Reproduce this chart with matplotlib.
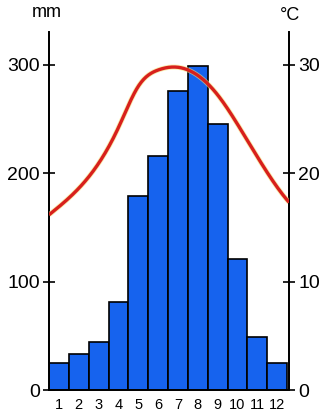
import numpy as np
import matplotlib
matplotlib.use("Agg")
import matplotlib.pyplot as plt

months = list(range(1, 13))
month_labels = [str(m) for m in months]
precip_mm = [25, 33, 44, 81, 179, 216, 276, 299, 245, 121, 49, 25]
temp_c = [16.9, 18.6, 20.9, 24.2, 28.0, 29.5, 29.75, 29.0, 27.2, 24.5, 21.5, 18.7]
precip_ticks = [0, 100, 200, 300]
temp_ticks = [0, 10, 20, 30]


def spline(x, y, xs):
    x = np.asarray(x, float)
    y = np.asarray(y, float)
    n = len(x)
    h = np.diff(x)
    A = np.zeros((n, n))
    b = np.zeros(n)
    # not-a-knot end conditions
    A[0, 0], A[0, 1], A[0, 2] = h[1], -(h[0] + h[1]), h[0]
    A[-1, -3], A[-1, -2], A[-1, -1] = h[-1], -(h[-2] + h[-1]), h[-2]
    for i in range(1, n - 1):
        A[i, i - 1] = h[i - 1]
        A[i, i] = 2 * (h[i - 1] + h[i])
        A[i, i + 1] = h[i]
        b[i] = 6 * ((y[i + 1] - y[i]) / h[i] - (y[i] - y[i - 1]) / h[i - 1])
    M = np.linalg.solve(A, b)
    out = np.empty_like(xs)
    for k, xv in enumerate(xs):
        i = int(np.clip(np.searchsorted(x, xv) - 1, 0, n - 2))
        hi = h[i]
        a = x[i + 1] - xv
        c = xv - x[i]
        out[k] = (M[i] * a ** 3 / (6 * hi) + M[i + 1] * c ** 3 / (6 * hi)
                  + (y[i] / hi - M[i] * hi / 6) * a
                  + (y[i + 1] / hi - M[i + 1] * hi / 6) * c)
    return out


plt.rcParams['font.family'] = ['Liberation Sans Narrow', 'Liberation Sans', 'DejaVu Sans']

fig = plt.figure(figsize=(3.27, 4.17), dpi=100)
ax = fig.add_axes([0.150, 0.0647, 0.734, 0.8585])
ax2 = ax.twinx()

xlo, xhi = 0.5, 12.6
ax.bar(months, precip_mm, width=1.0, color='#1663ee', edgecolor='black',
       linewidth=1.2, zorder=2)
ax.set_xlim(xlo, xhi)
ax.set_ylim(0, 330)
ax2.set_ylim(0, 33)

xs = np.linspace(xlo, xhi, 300)
ts = spline(months, temp_c, xs)
ax2.plot(xs, ts, color='#f5e27a', linewidth=3.6, alpha=0.6, solid_capstyle='butt', zorder=3)
ax2.plot(xs, ts, color='#d8201c', linewidth=2.4, solid_capstyle='butt', zorder=4)

for a in (ax, ax2):
    a.spines['top'].set_visible(False)
    for s in a.spines.values():
        s.set_linewidth(1.3)
    a.patch.set_visible(False)

ax.set_yticks(precip_ticks)
ax2.set_yticks(temp_ticks)
ax.tick_params(axis='y', direction='inout', length=9, width=1.2, labelsize=14, pad=2)
ax2.tick_params(axis='y', direction='inout', length=9, width=1.2, labelsize=14, pad=2)
ax.set_xticks(months)
ax.set_xticklabels(month_labels)
ax.tick_params(axis='x', length=0, labelsize=10.5, pad=6)

fig.text(0.144, 0.970, 'mm', ha='center', va='center', fontsize=13)
fig.text(0.888, 0.962, '°C', ha='center', va='center', fontsize=13)

fig.savefig('out.png', dpi=100)
